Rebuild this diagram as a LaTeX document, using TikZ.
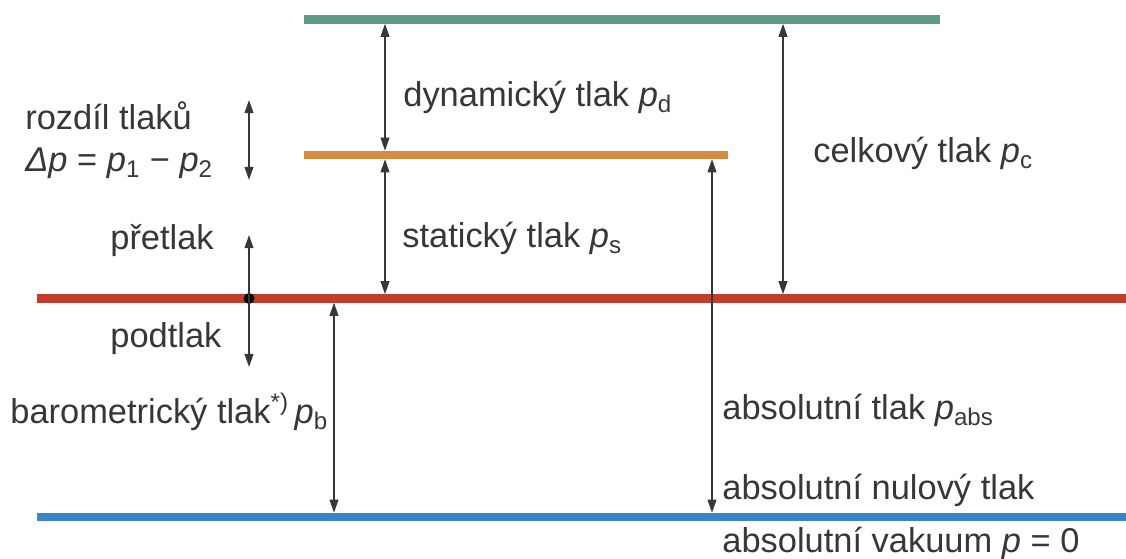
\documentclass[tikz,border=0pt]{standalone}
\usepackage{fontspec}
\setmainfont{Liberation Sans}
\usetikzlibrary{arrows.meta}

\definecolor{tealline}{RGB}{94,154,136}
\definecolor{orangeline}{RGB}{217,140,62}
\definecolor{redline}{RGB}{196,60,44}
\definecolor{blueline}{RGB}{58,132,200}
\definecolor{ink}{RGB}{55,55,55}

\newcommand{\pr}[1]{\textit{p}\textsubscript{#1}}

\begin{document}
\begin{tikzpicture}[
  >={Triangle[length=7.5pt,width=5pt]},
  level/.style={line width=5pt},
  dim/.style={ink, line width=0.9pt},
  onlevel/.style={shorten <=2.4pt, shorten >=2.4pt},
  dot/.style={circle, fill=black, inner sep=0pt, minimum size=0.22cm},
  lab/.style={ink, font=\fontsize{19.6}{23}\selectfont, inner sep=0pt, anchor=base west}]
  \useasboundingbox (0,0) rectangle (22.52,11.18);
  % pressure levels
  \draw[level, tealline]   (6.08,10.79) coordinate (tot)  -- (18.8,10.79);
  \draw[level, orangeline] (6.08,8.08)  coordinate (stat) -- (14.56,8.08);
  \draw[level, redline]    (0.74,5.21)  coordinate (atm)  -- (22.52,5.21);
  \draw[level, blueline]   (0.74,0.84)  coordinate (vac)  -- (22.52,0.84);
  % arrows between two levels
  \foreach \xx/\a/\b in {7.7/tot/stat, 7.7/stat/atm, 15.66/tot/atm, 14.24/stat/vac, 6.68/atm/vac} {
    \draw[dim, <->, onlevel] (\xx,0 |- \a) -- (\xx,0 |- \b);
  }
  % left side: difference, over- and underpressure
  \coordinate (dp-t) at (4.98,9.18);
  \coordinate (dp-b) at (4.98,7.58);
  \draw[dim, <->] (dp-t) -- (dp-b);
  \node[dot] (p0) at (4.98,0 |- atm) {};
  \coordinate (over) at (4.98,6.48);
  \coordinate (under) at (4.98,3.84);
  \draw[dim, ->] (p0.center) -- (over);
  \draw[dim, ->] (p0.center) -- (under);
  % labels
  \node[lab] (dp1) at (0.5,8.58) {rozdíl tlaků};
  \node[lab] (dp2) at (0.5,7.74) {\textit{Δp} = \pr{1} − \pr{2}};
  \node[lab] (dyn) at (8.06,9.04) {dynamický tlak \pr{d}};
  \node[lab] (sta) at (8.04,6.22) {statický tlak \pr{s}};
  \node[lab] (cel) at (16.26,7.92) {celkový tlak \pr{c}};
  \node[lab] (ovp) at (2.2,6.18) {přetlak};
  \node[lab] (unp) at (2.2,4.22) {podtlak};
  \node[lab] (bar) at (0.2,2.70) {barometrický tlak\textsuperscript{*)}\,\pr{b}};
  \node[lab] (abs) at (14.44,2.78) {absolutní tlak \pr{abs}};
  \node[lab] (nul) at (14.44,1.18) {absolutní nulový tlak};
  \node[lab] (vak) at (14.44,0.12) {absolutní vakuum \textit{p} = 0};
\end{tikzpicture}
\end{document}
